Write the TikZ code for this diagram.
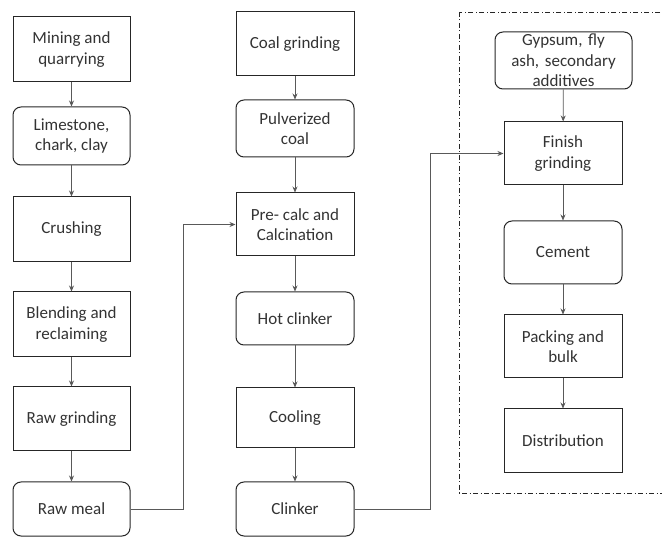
\documentclass[tikz,border=0pt]{standalone}
\usepackage{fontspec}
\setmainfont{Carlito}
\usetikzlibrary{arrows.meta}
\begin{document}
\begin{tikzpicture}[x=1pt,y=-1pt,
  box/.style={draw=black!85, line width=1pt, align=center, inner sep=0pt,
    font=\fontsize{17}{20.5}\selectfont, text=black!80},
  sqbox/.style={box},
  rbox/.style={box, rounded corners=8pt},
  arr/.style={draw=black!65, line width=0.7pt, -{Stealth[length=6pt,width=5pt]}},
  frame/.style={draw=black!85, line width=0.8pt, dash pattern=on 5pt off 2.5pt on 1pt off 2.5pt}]
\useasboundingbox (0,0) rectangle (662,537);
% left column
\node[sqbox, minimum width=117pt, minimum height=65pt] (mining) at (71.5,49.5) {Mining and\\quarrying};
\node[rbox, minimum width=117pt, minimum height=58pt] (lime) at (71.5,136) {Limestone,\\chark, clay};
\node[sqbox, minimum width=117pt, minimum height=65pt] (crush) at (71.5,229.5) {Crushing};
\node[sqbox, minimum width=117pt, minimum height=65pt] (blend) at (71.5,324.5) {Blending and\\reclaiming};
\node[sqbox, minimum width=117pt, minimum height=64pt] (rawg) at (71.5,419) {Raw grinding};
\node[rbox, minimum width=117pt, minimum height=54pt] (rawmeal) at (71.5,509) {Raw meal};
% middle column
\node[sqbox, minimum width=118pt, minimum height=64pt] (coal) at (295,44) {Coal grinding};
\node[rbox, minimum width=118pt, minimum height=57pt] (pulv) at (295,128.5) {Pulverized\\coal};
\node[sqbox, minimum width=118pt, minimum height=63pt] (precalc) at (295,224.5) {Pre- calc and\\Calcination};
\node[rbox, minimum width=118pt, minimum height=53pt] (hot) at (295,318.5) {Hot clinker};
\node[sqbox, minimum width=118pt, minimum height=60pt] (cool) at (295,418) {Cooling};
\node[rbox, minimum width=118pt, minimum height=54pt] (clinker) at (295,509) {Clinker};
% right column
\draw[frame] (459,12) rectangle (667,493);
\node[rbox, text width=137pt, minimum height=57pt] (gyp) at (563.5,60.5) {Gypsum, fly\\ash, secondary\\additives};
\node[sqbox, minimum width=118pt, minimum height=63pt] (finish) at (563,153.5) {Finish\\grinding};
\node[rbox, minimum width=118pt, minimum height=63pt] (cement) at (563,252.5) {Cement};
\node[sqbox, minimum width=118pt, minimum height=63pt] (pack) at (563,346.5) {Packing and\\bulk};
\node[sqbox, minimum width=118pt, minimum height=64pt] (dist) at (563,441) {Distribution};
% connectors
\draw[arr] (mining) -- (lime);
\draw[arr] (lime) -- (crush);
\draw[arr] (crush) -- (blend);
\draw[arr] (blend) -- (rawg);
\draw[arr] (rawg) -- (rawmeal);
\draw[arr] (coal) -- (pulv);
\draw[arr] (pulv) -- (precalc);
\draw[arr] (precalc) -- (hot);
\draw[arr] (hot) -- (cool);
\draw[arr] (cool) -- (clinker);
\draw[arr] (gyp) -- (finish);
\draw[arr] (finish) -- (cement);
\draw[arr] (cement) -- (pack);
\draw[arr] (pack) -- (dist);
\draw[arr] (rawmeal.east) -- ++(53,0) |- (precalc.west);
\draw[arr] (clinker.east) -- ++(76,0) |- (finish.west);
\end{tikzpicture}
\end{document}
